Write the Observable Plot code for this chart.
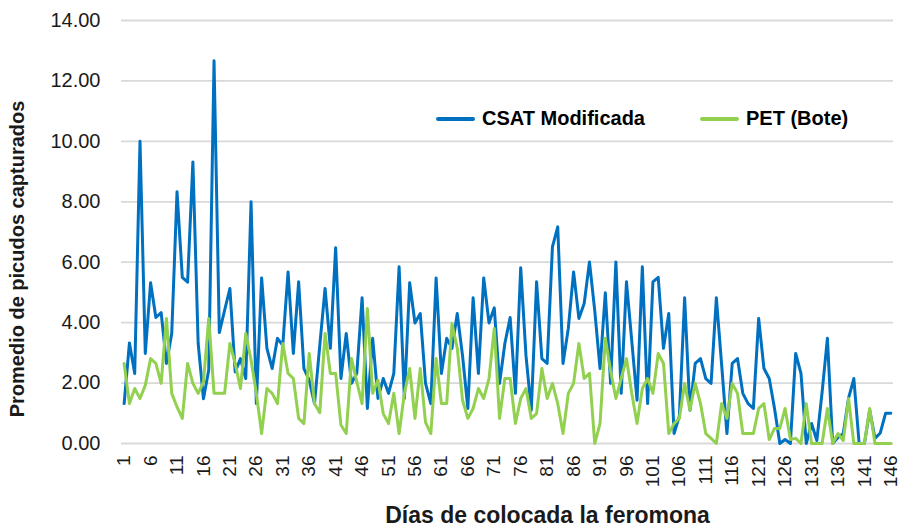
<!DOCTYPE html>
<html><head><meta charset="utf-8">
<script src="https://cdn.jsdelivr.net/npm/d3@7"></script>
<script src="https://cdn.jsdelivr.net/npm/@observablehq/plot@0.6"></script>
<style>
body{margin:0;background:#fff;font-family:"Liberation Sans",Arial,sans-serif;}
#wrap{position:relative;width:900px;height:526px;}
.legend{position:absolute;top:107px;left:436px;display:flex;align-items:center;font-weight:bold;font-size:20px;color:#000;white-space:nowrap;}
.legend .sw{display:inline-block;width:39px;height:4px;border-radius:2px;margin-right:7px;}
.legend .item{display:flex;align-items:center;}
</style></head><body><div id="wrap"></div>
<script>
const days = d3.range(1, 147);
const csat = [1.32,3.33,2.32,10.0,2.98,5.32,4.17,4.33,2.65,3.64,
8.33,5.5,5.34,9.32,3.31,1.48,2.43,12.67,3.67,4.41,
5.13,2.37,2.81,2.15,8.0,1.32,5.48,3.15,2.48,3.48,
3.25,5.68,2.98,5.35,2.48,2.1,1.32,3.25,5.13,3.15,
6.48,2.15,3.64,1.99,2.32,4.82,1.16,3.48,1.49,2.15,
1.66,2.32,5.85,1.49,5.32,3.99,4.3,1.99,1.32,5.48,
2.32,3.48,3.15,4.3,2.9,1.16,4.82,2.32,5.48,3.99,
4.49,1.99,3.31,4.17,1.66,5.82,2.9,1.1,5.35,2.81,
2.65,6.51,7.17,2.65,3.81,5.68,4.14,4.63,6.01,4.4,
2.48,4.99,1.99,6.01,1.66,5.35,3.4,1.43,5.85,1.32,
5.35,5.5,3.15,4.3,0.33,0.9,4.82,1.1,2.65,2.81,
2.15,1.99,4.82,2.6,0.33,2.65,2.81,1.66,1.32,1.16,
4.14,2.48,2.15,1.16,0,0.13,0,2.98,2.32,0,
0.66,0.1,1.7,3.48,0,0.2,0.33,1.5,2.15,0,
0,1.1,0.17,0.35,1.0,1.0];
const pet = [2.65,1.32,1.82,1.49,1.93,2.81,2.65,1.99,4.14,1.66,
1.21,0.83,2.65,1.99,1.66,2.04,4.14,1.66,1.66,1.66,
3.31,2.65,1.82,3.64,2.76,1.66,0.33,1.82,1.66,1.32,
3.31,2.32,2.15,0.83,0.66,2.98,1.32,1.02,3.64,2.32,
2.32,0.61,0.33,2.81,2.04,1.32,4.47,1.66,2.1,0.99,
0.66,1.66,0.33,1.66,2.48,0.83,2.48,0.7,0.33,2.81,
1.32,1.32,3.97,3.15,1.43,0.83,1.16,1.82,1.49,2.15,
3.81,0.83,2.15,2.15,0.66,1.49,1.82,0.83,0.99,2.48,
1.49,1.99,1.32,0.33,1.66,1.99,3.31,2.15,2.32,0,
0.66,3.48,2.4,1.49,2.15,2.81,1.66,0.66,1.82,2.15,
1.66,2.98,2.65,0.33,0.66,0.83,1.99,1.1,1.99,1.32,
0.33,0.17,0,1.32,0.83,1.99,1.66,0.33,0.33,0.33,
1.16,1.32,0.13,0.5,0.5,1.16,0.13,0.17,0,1.32,
0,0,0,1.16,0,0.33,0.1,1.49,0,0,
0,1.16,0,0,0,0];
const xTicks = [1,6,11,16,21,26,31,36,41,46,51,56,61,66,71,76,81,86,91,96,101,106,111,116,121,126,131,136,141,146];
const yTicks = [0,2,4,6,8,10,12,14];
const seriesNames = ["CSAT Modificada", "PET (Bote)"];
const seriesColors = ["#0070C0", "#92D050"];
const xTitle = "Días de colocada la feromona";
const yTitle = "Promedio de picudos capturados";

const rows = days.map((d, i) => ({day: d, csat: csat[i], pet: pet[i]}));

const chart = Plot.plot({
  width: 900, height: 526,
  marginLeft: 121, marginRight: 7, marginTop: 20, marginBottom: 83,
  style: {fontFamily: '"Liberation Sans", Arial, sans-serif', color: "#1a1a1a", background: "#fff"},
  x: {type: "linear", domain: [0.5, 146.5]},
  y: {domain: [0, 14]},
  marks: [
    Plot.ruleY(yTicks, {stroke: "#d9d9d9", strokeWidth: 1.8}),
    Plot.axisY({ticks: yTicks, tickSize: 0, tickPadding: 21, fontSize: 20, tickFormat: d3.format(".2f"),
      label: yTitle, labelAnchor: "center", labelOffset: 112, labelArrow: "none"}),
    Plot.axisX({ticks: xTicks, tickSize: 0, tickPadding: 12, tickRotate: -90, fontSize: 19, tickFormat: d => String(d),
      label: xTitle, labelAnchor: "center", labelOffset: 79, labelArrow: "none"}),
    Plot.lineY(rows, {x: "day", y: "csat", stroke: seriesColors[0], strokeWidth: 3, strokeLinejoin: "round"}),
    Plot.lineY(rows, {x: "day", y: "pet", stroke: seriesColors[1], strokeWidth: 3, strokeLinejoin: "round"})
  ]
});
// style axis titles bold and nudge them to match the original layout
function nudge(sel, dx, dy, size) {
  const g = chart.querySelector(sel);
  if (!g) return;
  g.setAttribute("font-size", size);
  g.setAttribute("font-weight", "bold");
  g.querySelectorAll("text").forEach(t => t.setAttribute("font-weight", "bold"));
  const outer = document.createElementNS("http://www.w3.org/2000/svg", "g");
  outer.setAttribute("transform", `translate(${dx},${dy})`);
  g.parentNode.insertBefore(outer, g);
  outer.appendChild(g);
}
nudge("g[aria-label='y-axis label']", 0, 27, 20);
nudge("g[aria-label='x-axis label']", 40, 0, 23);
const wrap = document.getElementById("wrap");
wrap.appendChild(chart);

const legend = document.createElement("div");
legend.className = "legend";
seriesNames.forEach((name, i) => {
  const item = document.createElement("div");
  item.className = "item";
  if (i > 0) item.style.marginLeft = "55px";
  const sw = document.createElement("span");
  sw.className = "sw";
  sw.style.background = seriesColors[i];
  const tx = document.createElement("span");
  tx.textContent = name;
  item.appendChild(sw); item.appendChild(tx);
  legend.appendChild(item);
});
wrap.appendChild(legend);
</script>
</body></html>
